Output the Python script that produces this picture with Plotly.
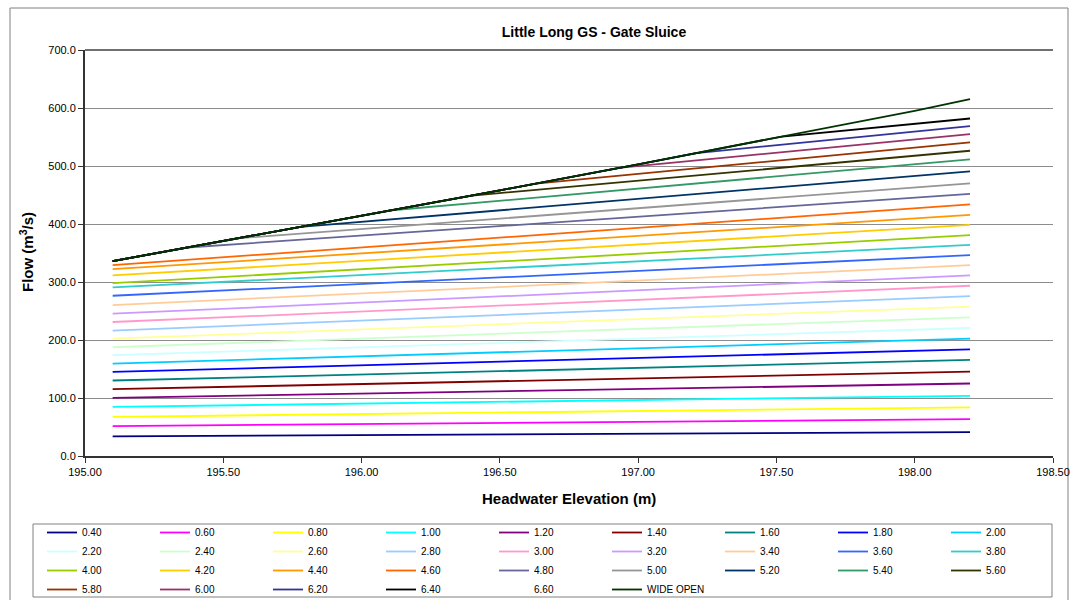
import plotly.graph_objects as go

# ---------------- data ----------------
GATE_LABELS = ["0.40", "0.60", "0.80", "1.00", "1.20", "1.40", "1.60", "1.80", "2.00",
               "2.20", "2.40", "2.60", "2.80", "3.00", "3.20", "3.40", "3.60", "3.80",
               "4.00", "4.20", "4.40", "4.60", "4.80", "5.00", "5.20", "5.40", "5.60",
               "5.80", "6.00", "6.20", "6.40"]
GATE_COLORS = ["#000080", "#FF00FF", "#FFFF00", "#00FFFF", "#800080", "#800000", "#008080",
               "#0000FF", "#00CCFF", "#CCFFFF", "#CCFFCC", "#FFFF99", "#99CCFF", "#FF99CC",
               "#CC99FF", "#FFCC99", "#3366FF", "#33CCCC", "#99CC00", "#FFCC00", "#FF9900",
               "#FF6600", "#666699", "#969696", "#003366", "#339966", "#333300", "#993300",
               "#993366", "#333399", "#000000"]

ELEV_START = 195.1
ELEV_END = 198.2

# flow at start elevation for openings that never touch the wide-open curve (0.40 .. 4.60)
FLOW_START = [34.0, 51.6, 67.6, 84.8, 100.3, 115.2, 130.2, 145.0, 159.4, 173.7, 187.5,
              202.4, 216.2, 231.0, 245.4, 260.3, 276.3, 290.7, 298.0, 311.3, 322.2, 329.1]
# flow at end elevation for every opening
FLOW_END = [41.3, 63.6, 83.7, 103.8, 125.0, 145.6, 165.7, 184.0, 202.4, 220.7, 239.1,
            257.4, 275.8, 293.5, 311.3, 329.1, 346.3, 364.1, 380.7, 398.5, 415.7, 434.0,
            451.8, 470.2, 490.8, 511.4, 526.3, 540.7, 555.0, 568.7, 581.9]
# openings 4.80 .. 6.40 follow the wide-open curve, then leave it here
BRANCH_ELEV = [195.37, 195.56, 195.78, 196.11, 196.40, 196.63, 196.93, 197.21, 197.52]
BRANCH_FLOW = [359.5, 375.6, 395.0, 423.7, 449.0, 469.7, 496.7, 522.3, 550.8]

WO_ELEV = [195.1, 195.5, 196.0, 196.5, 197.0, 197.5, 198.0, 198.2]
WO_FLOW = [336.0, 370.5, 414.0, 458.0, 503.0, 549.0, 595.0, 615.2]

X_TICKS = [195.0, 195.5, 196.0, 196.5, 197.0, 197.5, 198.0, 198.5]
Y_TICKS = [0, 100, 200, 300, 400, 500, 600, 700]

# ---------------- layout geometry ----------------
W, H = 1072, 600
L, R, T, B = 85, 19, 50, 144
PW, PH = W - L - R, H - T - B
FONT = "Liberation Sans, Arial, sans-serif"


def px_x(px):
    return (px - L) / PW


def px_y(py):
    return (H - B - py) / PH


fig = go.Figure()

n_plain = len(FLOW_START)
for i, lab in enumerate(GATE_LABELS):
    if i < n_plain:
        xs = [ELEV_START, ELEV_END]
        ys = [FLOW_START[i], FLOW_END[i]]
    else:
        k = i - n_plain
        xs = [e for e in WO_ELEV if e < BRANCH_ELEV[k]] + [BRANCH_ELEV[k], ELEV_END]
        ys = [f for e, f in zip(WO_ELEV, WO_FLOW) if e < BRANCH_ELEV[k]] + [BRANCH_FLOW[k], FLOW_END[i]]
    fig.add_trace(go.Scatter(x=xs, y=ys, mode="lines", name=lab,
                             line=dict(color=GATE_COLORS[i], width=1.8)))

# 6.60 appears in the legend without a visible line
fig.add_trace(go.Scatter(x=[None], y=[None], mode="lines", name="6.60",
                         line=dict(color="rgba(0,0,0,0)", width=1.8)))

fig.add_trace(go.Scatter(x=WO_ELEV, y=WO_FLOW, mode="lines", name="WIDE OPEN",
                         line=dict(color="#003300", width=1.8)))

fig.update_layout(
    width=W, height=H,
    margin=dict(l=L, r=R, t=T, b=B, autoexpand=False),
    paper_bgcolor="white", plot_bgcolor="white",
    font=dict(family=FONT, color="black", size=11),
    title=dict(text="<b>Little Long GS - Gate Sluice</b>", font=dict(size=14, family=FONT),
               xref="paper", x=px_x(594), xanchor="center",
               yref="container", y=1 - 32 / H, yanchor="middle"),
    showlegend=True,
    legend=dict(orientation="h", x=px_x(42), xanchor="left", y=px_y(518), yanchor="top",
                entrywidth=68, font=dict(size=10, family=FONT),
                borderwidth=0, tracegroupgap=0, bgcolor="rgba(0,0,0,0)",
                itemwidth=30, traceorder="normal"),
    xaxis=dict(range=[195.0, 198.5], tickvals=X_TICKS, tickformat=".2f",
               showgrid=False, zeroline=False, showline=True, linecolor="#333333",
               linewidth=2, ticks="outside", ticklen=5, tickcolor="#333333",
               tickfont=dict(size=11)),
    yaxis=dict(range=[0, 700], tickvals=Y_TICKS, tickformat=".1f",
               showgrid=True, gridcolor="#8c8c8c", gridwidth=1, zeroline=False,
               showline=True, linecolor="#333333", linewidth=2, ticks="outside",
               ticklen=5, tickcolor="#333333", tickfont=dict(size=11)),
    annotations=[
        dict(text="<b>Headwater Elevation (m)</b>", xref="paper", yref="paper",
             x=0.5, y=px_y(498), xanchor="center", yanchor="middle", showarrow=False,
             font=dict(size=15, family=FONT)),
        dict(text="<b>Flow (m<sup>3</sup>/s)</b>", xref="paper", yref="paper",
             x=px_x(27), y=px_y(252), xanchor="center", yanchor="middle", showarrow=False,
             textangle=-90, font=dict(size=15, family=FONT)),
    ],
    shapes=[
        dict(type="line", xref="paper", yref="paper", x0=0, x1=1, y0=1, y1=1,
             line=dict(color="#404040", width=1.5)),
        dict(type="rect", xref="paper", yref="paper", x0=px_x(10), x1=px_x(1068),
             y0=px_y(604), y1=px_y(8), line=dict(color="#808080", width=1),
             fillcolor="rgba(0,0,0,0)", layer="below"),
        dict(type="rect", xref="paper", yref="paper", x0=px_x(33), x1=px_x(1052),
             y0=px_y(597), y1=px_y(524), line=dict(color="#808080", width=1),
             fillcolor="rgba(0,0,0,0)", layer="below"),
    ],
)

fig.write_html("out.html")
